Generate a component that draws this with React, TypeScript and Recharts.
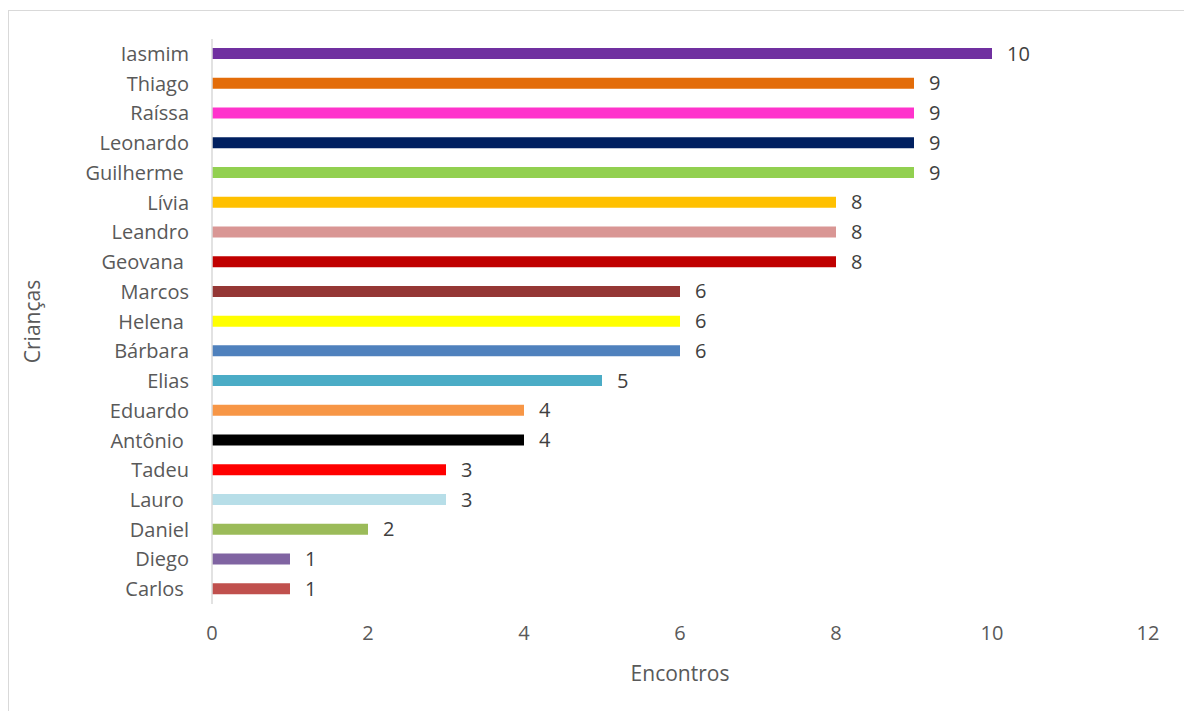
import { BarChart, Bar, XAxis, YAxis, Cell, LabelList, Label } from 'recharts';

// Children, top to bottom (trailing spaces are part of some names)
const names = [
  'Iasmim', 'Thiago', 'Raíssa', 'Leonardo', 'Guilherme ', 'Lívia', 'Leandro', 'Geovana ',
  'Marcos', 'Helena ', 'Bárbara', 'Elias', 'Eduardo', 'Antônio ', 'Tadeu', 'Lauro ',
  'Daniel', 'Diego', 'Carlos ',
];
const encontros = [10, 9, 9, 9, 9, 8, 8, 8, 6, 6, 6, 5, 4, 4, 3, 3, 2, 1, 1];
const barColors = [
  '#7030A0', '#E36C09', '#FF33CC', '#002060', '#92D050', '#FFC000', '#D99694', '#C00000',
  '#953735', '#FFFF00', '#4F81BD', '#4BACC6', '#F79646', '#000000', '#FF0000', '#B7DEE8',
  '#9BBB59', '#8064A2', '#C0504D',
];
const xTicks = [0, 2, 4, 6, 8, 10, 12];

const data = names.map((name, i) => ({ name, value: encontros[i] }));

const FONT = '"Open Sans", sans-serif';

const NameTick = ({ x, y, payload }: any) => (
  <text
    x={x}
    y={y}
    dy="0.355em"
    textAnchor="end"
    fill="#595959"
    fontSize={20}
    fontFamily={FONT}
    style={{ whiteSpace: 'pre' }}
  >
    {payload.value}
  </text>
);

export default function App() {
  return (
    <div
      style={{
        position: 'absolute',
        left: 8,
        top: 10,
        width: 1175,
        height: 700,
        overflow: 'hidden',
        borderTop: '1px solid #d9d9d9',
        borderLeft: '1px solid #d9d9d9',
        fontFamily: FONT,
      }}
    >
      <BarChart
        width={1175}
        height={700}
        data={data}
        layout="vertical"
        margin={{ top: 28, right: 36, left: 0, bottom: 27 }}
      >
        <XAxis
          type="number"
          domain={[0, 12]}
          ticks={xTicks}
          axisLine={false}
          tickLine={false}
          tickSize={0}
          tickMargin={22}
          height={80}
          tick={{ fill: '#595959', fontSize: 20, fontFamily: FONT }}
        >
          <Label
            value="Encontros"
            position="insideBottom"
            offset={3}
            fill="#595959"
            fontSize={21}
            fontFamily={FONT}
          />
        </XAxis>
        <YAxis
          type="category"
          dataKey="name"
          width={203}
          axisLine={{ stroke: '#d9d9d9', strokeWidth: 1.5 }}
          tickLine={false}
          tickSize={0}
          tickMargin={23}
          interval={0}
          tick={<NameTick />}
        >
          <Label
            value="Crianças"
            angle={-90}
            position="insideLeft"
            offset={24}
            fill="#595959"
            fontSize={21}
            fontFamily={FONT}
            style={{ textAnchor: 'middle' }}
          />
        </YAxis>
        <Bar dataKey="value" barSize={11} isAnimationActive={false}>
          {data.map((d, i) => (
            <Cell key={d.name} fill={barColors[i]} />
          ))}
          <LabelList
            dataKey="value"
            position="right"
            offset={15}
            fill="#404040"
            fontSize={20}
            fontFamily={FONT}
          />
        </Bar>
      </BarChart>
    </div>
  );
}
